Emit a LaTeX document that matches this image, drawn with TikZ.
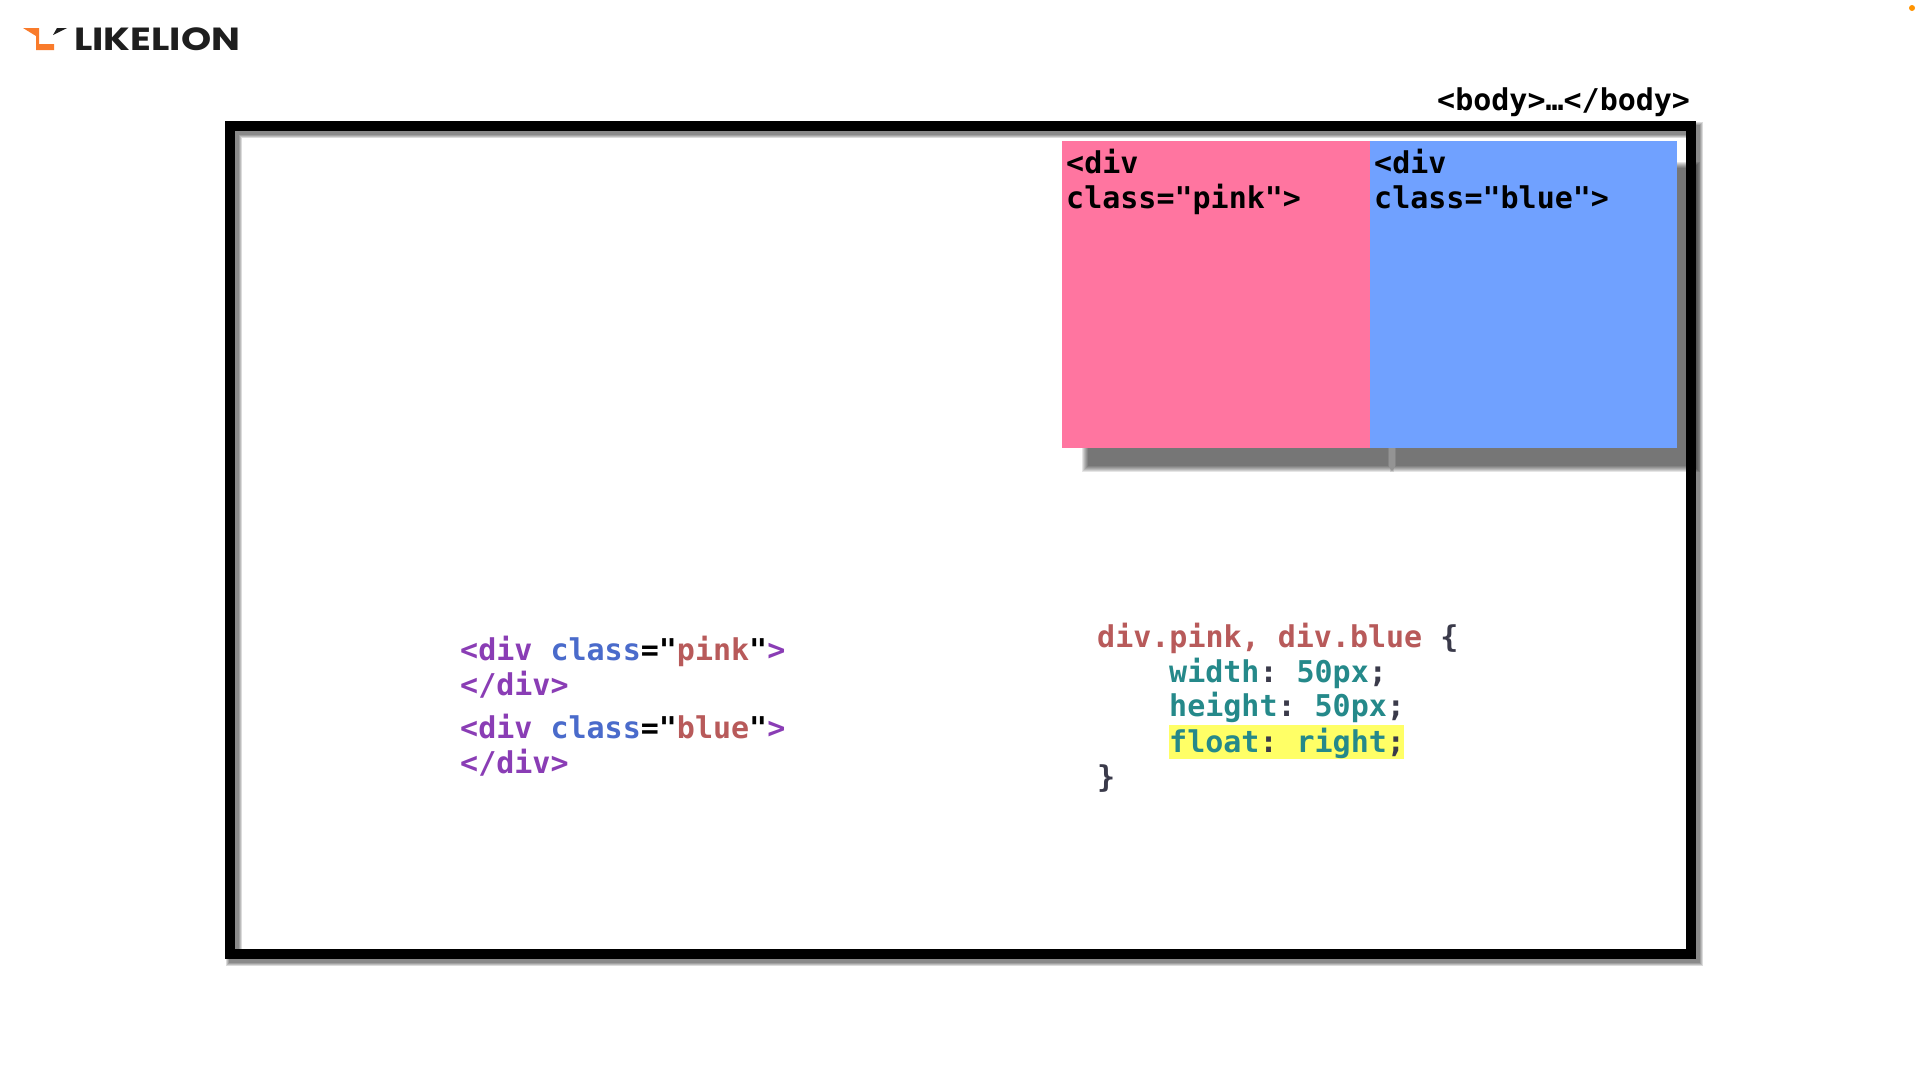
\documentclass[tikz,border=0pt]{standalone}
\usepackage{fontspec}
\newfontfamily\codefont{DejaVu Sans Mono}
\newfontfamily\logofont{Poppins}[FakeStretch=1.2]
\usepackage{tikz}
\definecolor{pinkbox}{HTML}{FF75A0}
\definecolor{bluebox}{HTML}{70A1FF}
\definecolor{logoorange}{HTML}{F97B2B}
\definecolor{logoblack}{HTML}{1E1E1E}
\definecolor{markyellow}{HTML}{FFFF66}
\definecolor{tagpurple}{HTML}{8A3DB5}
\definecolor{attrblue}{HTML}{4A6BCB}
\definecolor{strred}{HTML}{B85A5A}
\definecolor{propteal}{HTML}{25898A}
\definecolor{punctdark}{HTML}{3A3A4A}
\newcommand{\csssep}{\hspace{19pt}}

\begin{document}
\begin{tikzpicture}[x=1pt, y=-1pt,
  code/.style={anchor=base west, inner sep=0pt, font=\codefont\bfseries\fontsize{30}{35}\selectfont},
  divbox/.style={anchor=north west, inner sep=0pt, minimum height=307pt}]
\useasboundingbox (0,0) rectangle (1920,1080);
\fill[white] (0,0) rectangle (1920,1080);
\fill[orange!85!yellow] (1912,8) circle (3);
\foreach \g in {0,...,6} {
  \fill[black, opacity=0.1] (1082+\g,162+\g) rectangle (1394-\g,472-\g);
  \fill[black, opacity=0.1] (1390+\g,162+\g) rectangle (1700-\g,472-\g);
}
\foreach \g in {0,2,4,6} {
  \draw[black, opacity=0.14, line width=10pt+\g pt, line join=miter]
    (234,130) rectangle (1695,958);
}
\draw[line width=10pt, line join=miter] (230,126) rectangle (1691,954);
\node[divbox, fill=pinkbox, minimum width=308pt] (pinkdiv) at (1062,141) {};
\node[divbox, fill=bluebox, minimum width=307pt] (bluediv) at (1370,141) {};
\node[code] (bodylabel) at (1437,110) {<body>…</body>};
\node[code] (pinklabel) at (1066,173) {<div};
\node[code] (pinkclass) at (1066,208) {class="pink">};
\node[code] (bluelabel) at (1374,173) {<div};
\node[code] (blueclass) at (1374,208) {class="blue">};
\node[code] (htmlpink) at (460,660) {\textcolor{tagpurple}{<div} \textcolor{attrblue}{class}="\textcolor{strred}{pink}"\textcolor{tagpurple}{>}};
\node[code, text=tagpurple] (htmlpinkend) at (460,695) {</div>};
\node[code] (htmlblue) at (460,738) {\textcolor{tagpurple}{<div} \textcolor{attrblue}{class}="\textcolor{strred}{blue}"\textcolor{tagpurple}{>}};
\node[code, text=tagpurple] (htmlblueend) at (460,773) {</div>};
\fill[markyellow] (1169,725) rectangle (1404,759);
\node[code] (cssselector) at (1097,647) {\textcolor{strred}{div.pink, div.blue} \textcolor{punctdark}{\{}};
\node[code] (csswidth) at (1169,682) {\textcolor{propteal}{width}\textcolor{punctdark}{:}\csssep\textcolor{propteal}{50px}\textcolor{punctdark}{;}};
\node[code] (cssheight) at (1169,716) {\textcolor{propteal}{height}\textcolor{punctdark}{:}\csssep\textcolor{propteal}{50px}\textcolor{punctdark}{;}};
\node[code] (cssfloat) at (1169,752) {\textcolor{propteal}{float}\textcolor{punctdark}{:}\csssep\textcolor{propteal}{right}\textcolor{punctdark}{;}};
\node[code, text=punctdark] (cssend) at (1097,787) {\}};
\fill[logoorange] (23,28) -- (39,28) -- (39,44) -- (54,44) -- (54,50) -- (36,50) -- (36,36) -- cycle;
\fill[logoblack] (53,35) -- (57,28) -- (67,28) -- cycle;
\node[anchor=base west, inner sep=0pt, text=logoblack, font=\logofont\bfseries\fontsize{32}{32}\selectfont] (logotext) at (74,50) {LIKELION};
\end{tikzpicture}
\end{document}
